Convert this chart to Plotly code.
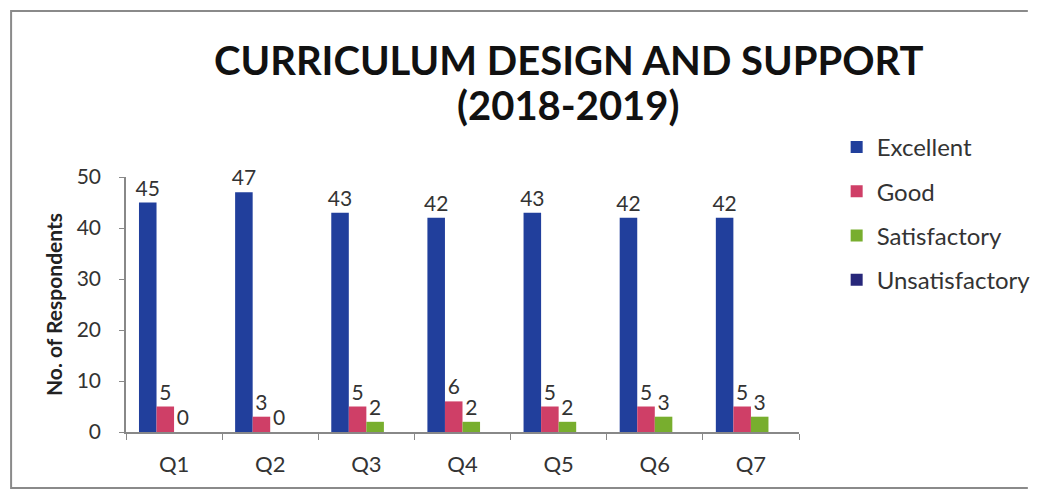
import plotly.graph_objects as go

# data
questions = ["Q1", "Q2", "Q3", "Q4", "Q5", "Q6", "Q7"]
excellent = [45, 47, 43, 42, 43, 42, 42]
good = [5, 3, 5, 6, 5, 5, 5]
satisfactory = [0, 0, 2, 2, 2, 3, 3]
unsatisfactory = [0, 0, 0, 0, 0, 0, 0]

series = [
    ("Excellent", excellent, "#213F9C", True),
    ("Good", good, "#CF3F67", True),
    ("Satisfactory", satisfactory, "#78AE2E", True),
    ("Unsatisfactory", unsatisfactory, "#27277A", False),
]

# the page body has an 8px margin, so the figure is drawn 8px in from the corner
OFF = 8
W, H = 1048 - OFF, 491 - OFF
L, R, T, B = 126 - OFF, 225, 177 - OFF, 59
pw = W - L - R
ph = H - T - B


def px_x(x):
    # screen pixel -> paper x
    return (x - OFF - L) / pw


def px_y(y):
    # screen pixel -> paper y
    return (H - B - (y - OFF)) / ph


fig = go.Figure()
for name, vals, col, show_txt in series:
    fig.add_trace(go.Bar(
        x=questions, y=vals, name=name,
        marker=dict(color=col, line=dict(width=0)),
        text=[str(v) for v in vals] if show_txt else None,
        textposition="outside",
        constraintext="none",
        textfont=dict(size=21, color="#333333"),
        cliponaxis=False,
        legendgroup=name,
    ))

fig.update_layout(
    width=W, height=H,
    margin=dict(l=L, r=R, t=T, b=B),
    paper_bgcolor="white", plot_bgcolor="white",
    font=dict(family="Lato, Open Sans, sans-serif", color="#333333"),
    barmode="group", bargap=0.27, bargroupgap=0,
    legend=dict(
        x=px_x(862), xanchor="left", y=px_y(125), yanchor="top",
        font=dict(size=24, color="#333333"),
        tracegroupgap=10, bgcolor="rgba(0,0,0,0)",
    ),
    showlegend=True,
)

title_lines = ["CURRICULUM DESIGN AND SUPPORT", "(2018-2019)"]
title_y = [60, 105]
for txt, ty in zip(title_lines, title_y):
    fig.add_annotation(
        text="<b>" + txt + "</b>", xref="paper", yref="paper",
        x=px_x(584), y=px_y(ty), xanchor="center", yanchor="middle",
        showarrow=False, font=dict(size=40, color="#111111", family="Lato, sans-serif"),
    )

fig.update_xaxes(
    showline=True, linecolor="#888888", linewidth=1.5,
    ticks="outside", tickson="boundaries", ticklen=6, tickcolor="#888888",
    tickfont=dict(size=22, color="#333333"), ticklabelstandoff=12,
    showgrid=False, range=[-0.5, 6.5],
)
fig.update_yaxes(
    range=[0, 50], dtick=10,
    showline=True, linecolor="#888888", linewidth=1.5,
    ticks="outside", ticklen=5, tickcolor="#888888",
    tickfont=dict(size=21, color="#333333"), ticklabelstandoff=14,
    showgrid=False, zeroline=False,
    title=dict(text="<b>No. of Respondents</b>", font=dict(size=21, color="#222222"), standoff=8),
)

# outer frame of the scanned chart (left, top and bottom edges only)
fx0, fx1 = px_x(7), px_x(1060)
fy0, fy1 = px_y(488), px_y(11)
fig.add_shape(
    type="path", xref="paper", yref="paper",
    path=f"M {fx1},{fy1} L {fx0},{fy1} L {fx0},{fy0} L {fx1},{fy0}",
    line=dict(color="#8a8a8a", width=2), layer="below",
)

fig.write_html("out.html")
